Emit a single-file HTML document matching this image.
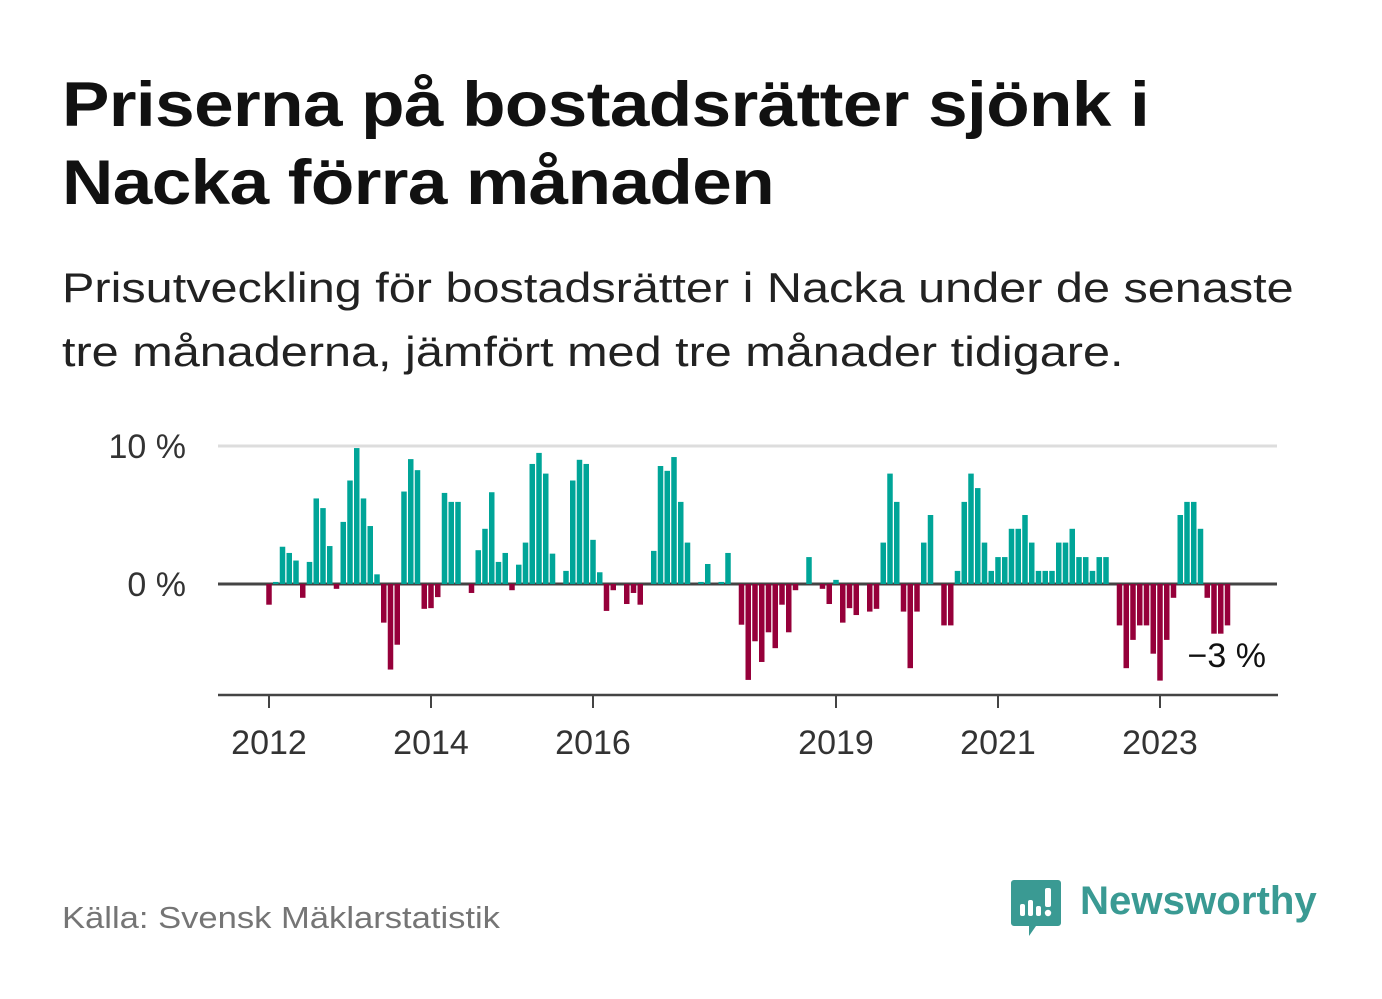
<!DOCTYPE html>
<html><head><meta charset="utf-8"><style>
body{margin:0;width:1382px;height:999px;background:#fff;overflow:hidden;font-family:"Liberation Sans",sans-serif;position:relative}
.t{position:absolute;left:62px;top:66px;font-size:63px;font-weight:bold;line-height:78px;color:#111;letter-spacing:-0.5px;transform:scaleX(1.128);transform-origin:0 0;white-space:nowrap}
.s{position:absolute;left:62px;top:256px;font-size:42px;line-height:64px;color:#222;transform:scaleX(1.157);transform-origin:0 0;white-space:nowrap}
.src{position:absolute;left:62px;top:900px;font-size:31px;color:#757575;transform:scaleX(1.115);transform-origin:0 0;white-space:nowrap}
.logo{position:absolute;left:1080px;top:879px;font-size:40px;font-weight:bold;color:#3a9a93;transform:scaleX(1.005);transform-origin:0 0}
svg{position:absolute;left:0;top:0}
</style></head><body>
<div class="t">Priserna på bostadsrätter sjönk i<br>Nacka förra månaden</div>
<div class="s">Prisutveckling för bostadsrätter i Nacka under de senaste<br>tre månaderna, jämfört med tre månader tidigare.</div>
<div class="src">Källa: Svensk Mäklarstatistik</div>
<svg width="60" height="70" style="left:1010px;top:878px">
<path d="M4 2h44a3 3 0 0 1 3 3v40a3 3 0 0 1-3 3H26l-7 10v-10H4a3 3 0 0 1-3-3V5a3 3 0 0 1 3-3z" fill="#3a9a93"/>
<rect x="10" y="26" width="5" height="12" rx="2" fill="#fff"/><rect x="18" y="22" width="5" height="16" rx="2" fill="#fff"/><rect x="26" y="28" width="5" height="10" rx="2" fill="#fff"/><rect x="35" y="10" width="6" height="19" rx="2" fill="#fff"/><circle cx="38" cy="35" r="3.2" fill="#fff"/></svg>
<div class="logo">Newsworthy</div>
<svg id="c" width="1382" height="999"></svg>
<script>
const values=[-1.5,0.15,2.7,2.25,1.7,-1.0,1.6,6.2,5.5,2.75,-0.35,4.5,7.5,9.85,6.2,4.2,0.7,-2.8,-6.2,-4.4,6.7,9.05,8.25,-1.8,-1.75,-0.95,6.6,5.95,5.95,0,-0.65,2.45,4.0,6.65,1.6,2.25,-0.45,1.4,3.0,8.7,9.5,8.0,2.2,0,0.95,7.5,9.0,8.7,3.2,0.85,-1.95,-0.45,0,-1.45,-0.65,-1.5,0,2.4,8.55,8.2,9.2,5.95,3.0,0,0.15,1.45,0,0.15,2.25,0,-2.95,-6.95,-4.15,-5.65,-3.5,-4.65,-1.5,-3.5,-0.45,0,1.95,0,-0.35,-1.45,0.3,-2.8,-1.75,-2.25,0,-2.0,-1.8,3.0,8.0,5.95,-2.0,-6.1,-2.0,3.0,5.0,0,-3.0,-3.0,0.95,5.95,8.0,6.95,3.0,0.95,1.95,1.95,4.0,4.0,5.0,3.0,0.95,0.95,0.95,3.0,3.0,4.0,1.95,1.95,0.95,1.95,1.95,0,-3.0,-6.1,-4.05,-3.0,-3.0,-5.05,-7.0,-4.05,-1.0,5.0,5.95,5.95,4.0,-1.0,-3.6,-3.6,-3.0];
const startYear=2012;
const yTicks=[0,10];
const yTickLabels=["0 %","10 %"];
const xTickYears=[2012,2014,2016,2019,2021,2023];
const lastLabel="−3 %";
const NS="http://www.w3.org/2000/svg";
const svg=document.getElementById('c');
const y=v=>584-v*13.8;
const x=i=>269+i*6.75;
const xy=yr=>x((yr-startYear)*12);
function mk(t,a){const e=document.createElementNS(NS,t);for(const k in a)e.setAttribute(k,a[k]);svg.appendChild(e);return e;}
yTicks.forEach((t,k)=>{
 const l=mk('line',{x1:218,x2:1277,y1:y(t),y2:y(t),stroke:t===0?'#444':'#ddd','stroke-width':3});
 
 
 const tx=mk('text',{x:186,y:y(t)+12,'text-anchor':'end','font-size':34,fill:'#333','font-family':'Liberation Sans, sans-serif'});
 tx.textContent=yTickLabels[k];
 
 
});
values.forEach((v,i)=>{
 if(v===0)return;
 const r=mk('rect',{x:x(i)-2.75,width:5.5,y:Math.min(y(v),y(0)),height:Math.abs(y(v)-y(0)),fill:v>0?'#00a598':'#96003a'});
 
 
});
const ax=mk('line',{x1:218,x2:1278,y1:695,y2:695,stroke:'#444','stroke-width':2.5});


xTickYears.forEach(yr=>{
 const tk=mk('line',{x1:xy(yr),x2:xy(yr),y1:695,y2:708,stroke:'#444','stroke-width':2});
 
 
 const tx=mk('text',{x:xy(yr),y:754,'text-anchor':'middle','font-size':34,fill:'#333','font-family':'Liberation Sans, sans-serif'});
 tx.textContent=yr;
 
 
});
const ll=mk('text',{x:1266,y:667,'text-anchor':'end','font-size':34,fill:'#111','font-family':'Liberation Sans, sans-serif'});
ll.textContent=lastLabel;


</script>
</body></html>
